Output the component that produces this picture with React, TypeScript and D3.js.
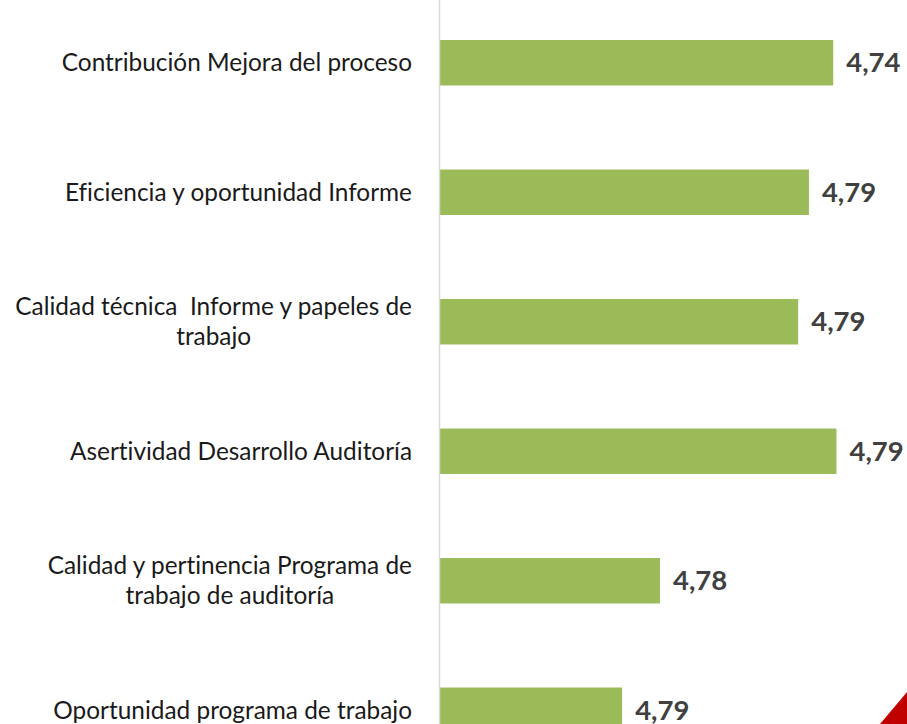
import React, { useRef, useEffect } from 'react';
import * as d3 from 'd3';

const WIDTH = 907;
const HEIGHT = 724;
const AXIS_X = 440;
const LABEL_RIGHT = 412;

// categories, top to bottom (\n = line break as in the original axis)
const categories = [
  'Contribución Mejora del proceso',
  'Eficiencia y oportunidad Informe',
  'Calidad técnica  Informe y papeles de\ntrabajo',
  'Asertividad Desarrollo Auditoría',
  'Calidad y pertinencia Programa de\ntrabajo de auditoría',
  'Oportunidad programa de trabajo',
];

// bar lengths as drawn (percent of plot width)
const barLengths = [84.2, 79.0, 76.7, 84.9, 47.1, 39.0];

// data labels shown next to each bar
const valueLabels = ['4,74', '4,79', '4,79', '4,79', '4,78', '4,79'];

const App = () => {
  const svgRef = useRef<SVGSVGElement>(null);

  useEffect(() => {
    const svg = d3.select(svgRef.current);
    svg.selectAll('*').remove();

    const x = d3.scaleLinear().domain([0, 100]).range([AXIS_X, WIDTH]);
    const y = d3.scaleBand<string>()
      .domain(categories)
      .range([-2, 775])
      .paddingInner(0.649)
      .paddingOuter(0.3245);

    // bars
    svg.append('g')
      .selectAll('rect')
      .data(categories)
      .join('rect')
      .attr('x', x(0))
      .attr('y', d => y(d)!)
      .attr('width', (d, i) => x(barLengths[i]) - x(0))
      .attr('height', y.bandwidth())
      .attr('fill', '#9BBB59');

    // vertical axis line
    svg.append('line')
      .attr('x1', AXIS_X - 0.5)
      .attr('x2', AXIS_X - 0.5)
      .attr('y1', 0)
      .attr('y2', HEIGHT)
      .attr('stroke', '#d9d9d9')
      .attr('stroke-width', 1.5);

    // value labels
    svg.append('g')
      .selectAll('text')
      .data(categories)
      .join('text')
      .attr('x', (d, i) => x(barLengths[i]) + 13)
      .attr('y', d => y(d)! + y.bandwidth() / 2)
      .attr('dy', '0.34em')
      .attr('font-family', 'Lato, sans-serif')
      .attr('font-weight', 'bold')
      .attr('font-size', 27.5)
      .attr('fill', '#404040')
      .text((d, i) => valueLabels[i]);

    // category labels: block right-aligned, lines centered inside the block
    const lineHeight = 30;
    categories.forEach(cat => {
      const lines = cat.split('\n');
      const cy = y(cat)! + y.bandwidth() / 2;
      const t = svg.append('text')
        .attr('font-family', 'Lato, sans-serif')
        .attr('font-size', 24.4)
        .attr('fill', '#1a1a1a')
        .attr('text-anchor', 'middle')
        .style('white-space', 'pre')
        .style('font-variant-ligatures', 'none');
      const spans = lines.map((line, i) =>
        t.append('tspan')
          .attr('y', cy + (i - (lines.length - 1) / 2) * lineHeight)
          .attr('dy', '0.35em')
          .text(line)
      );
      const maxW = d3.max(spans, s => (s.node() as SVGTSpanElement).getComputedTextLength()) || 0;
      spans.forEach(s => s.attr('x', LABEL_RIGHT - maxW / 2));
    });

    // red corner decoration
    svg.append('path')
      .attr('d', `M${WIDTH - 27},${HEIGHT} L${WIDTH},${HEIGHT - 32} L${WIDTH},${HEIGHT} Z`)
      .attr('fill', '#C00000');
  }, []);

  return (
    <svg
      ref={svgRef}
      width={WIDTH}
      height={HEIGHT}
      style={{ position: 'absolute', left: 0, top: 0, background: '#fff' }}
    />
  );
};

export default App;
